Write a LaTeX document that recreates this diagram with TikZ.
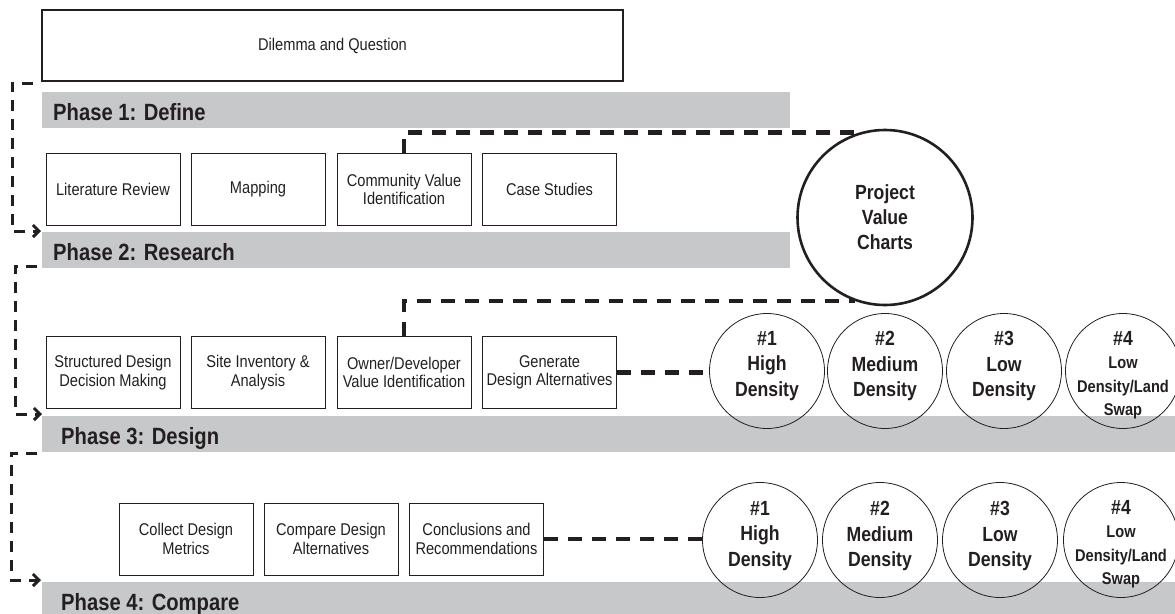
\documentclass[tikz,border=0pt]{standalone}
\usepackage{fontspec}
\setmainfont{Liberation Sans}[FakeStretch=0.86]
\usetikzlibrary{arrows.meta,calc}
\definecolor{ink}{HTML}{231F20}
\definecolor{barc}{HTML}{C7C8CA}
\begin{document}
\begin{tikzpicture}[x=1pt,y=-1pt,
  bar/.style={fill=barc, draw=none, inner sep=0, anchor=north west, minimum height=36pt},
  phasetxt/.style={font=\fontsize{23.5}{23.5}\selectfont\bfseries, text=ink, anchor=base west, inner sep=0},
  stepbox/.style={draw=ink, line width=0.9pt, minimum width=134pt, minimum height=72pt, align=center, font=\fontsize{17}{18.5}\selectfont, text=ink, inner sep=2pt},
  altc/.style={circle, draw=ink, line width=0.8pt, minimum size=115pt, inner sep=0},
  alttxt/.style={align=center, font=\fontsize{20.5}{25.5}\selectfont\bfseries, text=ink, inner sep=0},
  alttxtb/.style={align=center, font=\fontsize{17}{23.5}\selectfont\bfseries, text=ink, inner sep=0},
  pvcircle/.style={circle, draw=ink, line width=2.6pt, minimum size=175pt, inner sep=0, align=center, font=\fontsize{20.5}{25}\selectfont\bfseries, text=ink},
  link/.style={draw=ink, line width=4.2pt, dash pattern=on 14pt off 10pt},
  loopline/.style={draw=ink, line width=3pt, dash pattern=on 11pt off 8pt, -{Straight Barb[length=6pt,width=12pt]}}
]
\useasboundingbox (0,0) rectangle (1175,613);

% phase bars
\node[bar, minimum width=748pt] (p1) at (42,92) {};
\node[bar, minimum width=748pt] (p2) at (42,232) {};
\node[bar, minimum width=1140pt] (p3) at (42,416) {};
\node[bar, minimum width=1140pt] (p4) at (42,582) {};
\node[phasetxt] (p1t) at (53,120.5) {Phase 1: Define};
\node[phasetxt] (p2t) at (53,260.5) {Phase 2: Research};
\node[phasetxt] (p3t) at (61,444.5) {Phase 3: Design};
\node[phasetxt] (p4t) at (61,610.5) {Phase 4: Compare};

% top box
\node[stepbox, line width=1.3pt, minimum width=581pt, minimum height=71pt] (dq) at (332.5,45.5) {Dilemma and Question};

% row 1
\node[stepbox] (lr) at (113,189.5) {Literature Review};
\node[stepbox] (mp) at (258,189.5) {Mapping};
\node[stepbox] (cv) at (404,189.5) {Community Value\\Identification};
\node[stepbox] (cs) at (549.5,189.5) {Case Studies};

% row 2
\node[stepbox] (sd) at (113,372.5) {Structured Design\\Decision Making};
\node[stepbox] (si) at (258,372.5) {Site Inventory \&\\Analysis};
\node[stepbox] (od) at (404,372.5) {Owner/Developer\\Value Identification};
\node[stepbox] (gd) at (549.5,372.5) {Generate\\Design Alternatives};

% row 3
\node[stepbox] (cm) at (186,539) {Collect Design\\Metrics};
\node[stepbox] (ca) at (331,539) {Compare Design\\Alternatives};
\node[stepbox] (cr) at (476.5,539) {Conclusions and\\Recommendations};

% project value charts
\node[pvcircle] (pv) at (885,217.5) {Project\\Value\\Charts};

% alternatives row 2
\node[altc] (ra1) at (767,371) {};
\node[altc] (ra2) at (885,371) {};
\node[altc] (ra3) at (1004,371) {};
\node[altc] (ra4) at (1123,371) {};
\node[alttxt] (ra1t) at (767,366) {\#1\\High\\Density};
\node[alttxt] (ra2t) at (885,366) {\#2\\Medium\\Density};
\node[alttxt] (ra3t) at (1004,366) {\#3\\Low\\Density};
\node[alttxtb] (ra4t) at (1123,375) {{\fontsize{20.5}{23.5}\selectfont\#4}\\Low\\Density/Land\\Swap};

% alternatives row 3
\node[altc] (rb1) at (760,540) {};
\node[altc] (rb2) at (880,540) {};
\node[altc] (rb3) at (1000,540) {};
\node[altc] (rb4) at (1121,540) {};
\node[alttxt] (rb1t) at (760,536) {\#1\\High\\Density};
\node[alttxt] (rb2t) at (880,536) {\#2\\Medium\\Density};
\node[alttxt] (rb3t) at (1000,536) {\#3\\Low\\Density};
\node[alttxtb] (rb4t) at (1121,544) {{\fontsize{20.5}{23.5}\selectfont\#4}\\Low\\Density/Land\\Swap};

% connectors to circles
\draw[link] (cv.north) |- (pv.107.4);
\draw[link] (od.north) |- (pv.250.5);
\draw[link] (gd.east) -- (gd.east -| ra1.west);
\draw[link] (cr.east) -- (cr.east -| rb1.west);

% phase loop arrows
\coordinate (a1) at (33,83);
\coordinate (b1) at (41,231);
\coordinate (a2) at (37,266);
\coordinate (b2) at (42,414);
\coordinate (a3) at (37,453);
\coordinate (b3) at (41,580);
\draw[loopline] (a1) -- (12,83) -- (12,231) -- (b1);
\draw[loopline] (a2) -- (15,266) -- (15,414) -- (b2);
\draw[loopline] (a3) -- (11,453) -- (11,580) -- (b3);
\end{tikzpicture}
\end{document}
